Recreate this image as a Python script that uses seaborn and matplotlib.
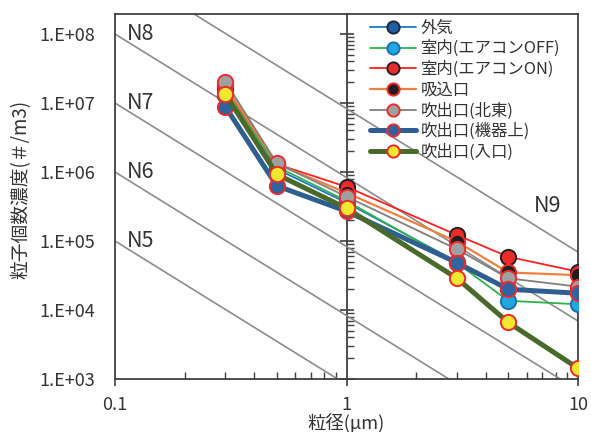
import numpy as np
import pandas as pd
import matplotlib
matplotlib.use("Agg")
import matplotlib.pyplot as plt
import seaborn as sns
from matplotlib.ticker import FixedLocator, NullFormatter, NullLocator, FuncFormatter

sns.set_style("ticks")
plt.rcParams['font.family'] = ['Noto Sans CJK JP', 'DejaVu Sans']

# particle size (um)
sizes = [0.3, 0.5, 1, 3, 5, 10]

# particle number concentration (#/m3) per sampling point
outdoor      = [1.3e7, 1.1e6, 3.6e5, 5.0e4, 2.0e4, 1.8e4]
room_off     = [1.5e7, 1.2e6, 3.8e5, 4.8e4, 1.36e4, 1.21e4]
room_on      = [1.7e7, 1.3e6, 6.1e5, 1.22e5, 5.9e4, 3.6e4]
intake       = [1.8e7, 1.3e6, 5.0e5, 9.8e4, 3.5e4, 3.2e4]
outlet_ne    = [2.04e7, 1.34e6, 4.4e5, 7.6e4, 2.88e4, 2.18e4]
outlet_unit  = [8.8e6, 6.3e5, 2.7e5, 4.85e4, 2.0e4, 1.75e4]
outlet_entry = [1.34e7, 9.25e5, 2.98e5, 2.88e4, 6.6e3, 1.43e3]

series_names = ["外気", "室内(エアコンOFF)", "室内(エアコンON)", "吸込口",
                "吹出口(北東)", "吹出口(機器上)", "吹出口(入口)"]
series_values = [outdoor, room_off, room_on, intake, outlet_ne, outlet_unit, outlet_entry]

# ISO 14644-1 cleanliness classes and reference range of sizes
iso_classes = [5, 6, 7, 8, 9]
iso_sizes = np.array([0.1, 10.0])

x_ticks = [0.1, 1, 10]
y_ticks = [1e3, 1e4, 1e5, 1e6, 1e7, 1e8]

styles = [
    dict(color="#1f77c4", lw=1.3, mfc="#1f5f9f", mec="#1a2a40"),
    dict(color="#2db34a", lw=1.3, mfc="#1ea8e0", mec="#1f6fb0"),
    dict(color="#ff2020", lw=1.3, mfc="#ee2a2a", mec="#222222"),
    dict(color="#f08040", lw=1.6, mfc="#1e1e1e", mec="#ee2a2a"),
    dict(color="#808080", lw=1.3, mfc="#a0a0a0", mec="#ee2a2a"),
    dict(color="#2f5f90", lw=3.6, mfc="#2f64a0", mec="#ee2a2a"),
    dict(color="#4a6a2c", lw=3.6, mfc="#f2e830", mec="#ee2a2a"),
]

fig = plt.figure(figsize=(5.91, 4.32), dpi=100)
ax = fig.add_axes([115 / 591, 1 - 379 / 432, 463 / 591, 365 / 432])
ax.set_xscale("log")
ax.set_yscale("log")
ax.set_xlim(0.1, 10)
ax.set_ylim(1e3, 1.95e8)

# cleanliness class reference lines
for n in iso_classes:
    conc = 10.0 ** n * (0.1 / iso_sizes) ** 2.08
    sns.lineplot(x=iso_sizes, y=conc, ax=ax, color="#8c8c8c", lw=1.2,
                 legend=False, zorder=1)
for n in iso_classes[:-1]:
    ax.text(0.112, 10.0 ** n, f"N{n}", fontsize=15.5, color="#333333",
            va="center", ha="left", zorder=2)
ax.text(7.4, 3.2e5, "N9", fontsize=15.5, color="#333333",
        va="center", ha="center", zorder=2)

for name, vals, st in zip(series_names, series_values, styles):
    df = pd.DataFrame({"size": sizes, "conc": vals})
    sns.lineplot(data=df, x="size", y="conc", ax=ax, color=st["color"], lw=st["lw"],
                 marker="o", markersize=11, markerfacecolor=st["mfc"],
                 markeredgecolor=st["mec"], markeredgewidth=1.4,
                 label=name, sort=False, estimator=None, zorder=3)

# frame
for sp in ax.spines.values():
    sp.set_color("#404040")
    sp.set_linewidth(1.3)

ax.xaxis.set_major_locator(FixedLocator(x_ticks))
ax.xaxis.set_major_formatter(FuncFormatter(lambda v, p: f"{v:g}"))
ax.xaxis.set_minor_locator(FixedLocator(
    [m * d for d in (0.1, 1) for m in range(2, 10)]))
ax.xaxis.set_minor_formatter(NullFormatter())
ax.tick_params(axis="x", which="major", direction="out", length=5, width=1.2,
               color="#404040", pad=7, labelsize=13, labelcolor="#333333")
ax.tick_params(axis="x", which="minor", direction="in", length=5, width=1.0,
               color="#404040")

ax.yaxis.set_major_locator(FixedLocator(y_ticks))
ax.yaxis.set_major_formatter(FuncFormatter(
    lambda v, p: f"1.E+{int(round(np.log10(v))):02d}"))
ax.yaxis.set_minor_locator(NullLocator())
ax.tick_params(axis="y", which="major", length=0, pad=14, labelsize=13,
               labelcolor="#333333")

# value axis crossing at 1 um
ax2 = ax.twinx()
ax2.set_yscale("log")
ax2.set_ylim(ax.get_ylim())
for key in ("left", "top", "bottom"):
    ax2.spines[key].set_visible(False)
ax2.spines["right"].set_position(("data", 1))
ax2.spines["right"].set_color("#404040")
ax2.spines["right"].set_linewidth(1.3)
ax2.yaxis.set_major_locator(FixedLocator(y_ticks))
ax2.yaxis.set_minor_locator(FixedLocator(
    [m * 10.0 ** e for e in range(3, 9) for m in range(2, 10)]))
ax2.yaxis.set_major_formatter(NullFormatter())
ax2.yaxis.set_minor_formatter(NullFormatter())
ax2.tick_params(axis="y", which="major", direction="inout", length=10, width=1.2,
                color="#404040")
ax2.tick_params(axis="y", which="minor", direction="out", length=5, width=1.0,
                color="#404040")
ax2.set_zorder(0)
ax.set_zorder(1)
ax.patch.set_visible(False)

ax.set_xlabel("粒径(μm)", fontsize=13.2, color="#333333")
ax.xaxis.set_label_coords(0.5, -0.094)
ax.xaxis.label.set_va("top")
ax.set_ylabel("粒子個数濃度(＃/m3)", fontsize=13.5, color="#333333")
ax.yaxis.set_label_coords(-0.18, 0.52)

leg = ax.legend(loc="upper left", bbox_to_anchor=(0.55, 0.985), frameon=False,
                fontsize=11.8, handlelength=2.8, handletextpad=0.3,
                labelspacing=0.22, borderpad=0, borderaxespad=0, markerscale=0.8)
for t in leg.get_texts():
    t.set_color("#333333")

fig.savefig("out.png", dpi=100)
